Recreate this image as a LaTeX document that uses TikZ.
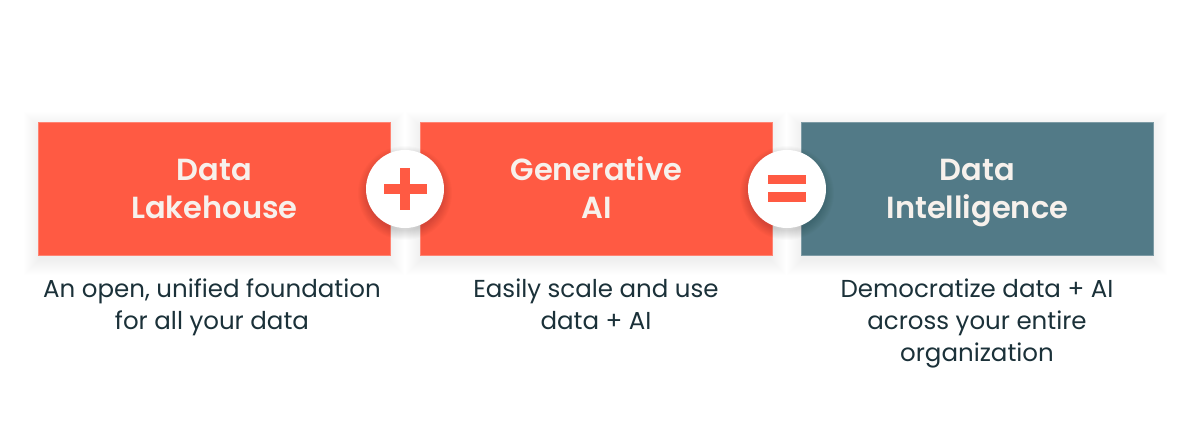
\documentclass[tikz,border=0pt]{standalone}
\usepackage{fontspec}
\setmainfont{Poppins}
\newfontfamily\titlefont{Poppins}[UprightFont=* SemiBold]
\definecolor{dbred}{HTML}{FF5A43}
\definecolor{dbteal}{HTML}{527A87}
\definecolor{txtlight}{HTML}{F7F1EC}
\definecolor{txtdark}{HTML}{1B3139}
\begin{document}
\begin{tikzpicture}[x=1pt,y=1pt,
  cardshadow/.pic={\foreach \i in {1,...,16}{\fill[black,fill opacity=0.0055] (-\i+2,-133-\i-4) rectangle (352+\i-2,\i-6);}},
  circshadow/.pic={\foreach \i in {1,...,10}{\fill[black,fill opacity=0.014] (0,-4) circle[radius=37+\i];}},
  card/.style={minimum width=352pt,minimum height=133pt,anchor=north west,inner sep=0pt,line width=0.8pt},
  title/.style={text=txtlight,anchor=base,inner sep=0pt,font=\titlefont\fontsize{30.5}{38}\selectfont},
  opcircle/.style={circle,fill=white,minimum size=78pt,inner sep=0pt},
  bar/.style={fill=dbred},
  desc/.style={text=txtdark,anchor=base,inner sep=0pt,font=\fontsize{24.5}{32}\selectfont}]
\useasboundingbox[fill=white] (0,0) rectangle (1202,444);
\pic at (38,322) {cardshadow};
\pic at (420,322) {cardshadow};
\pic at (801,322) {cardshadow};
\node[card,fill=dbred,draw=dbred!75!white] (lake) at (38,322) {};
\node[card,fill=dbred,draw=dbred!75!white] (genai) at (420,322) {};
\node[card,fill=dbteal,draw=dbteal!75!white] (intel) at (801,322) {};
\node[title] (t1a) at (lake.center |- 0,263) {Data};
\node[title] (t1b) at (lake.center |- 0,225) {Lakehouse};
\node[title] (t2a) at (genai.center |- 0,263) {Generative};
\node[title] (t2b) at (genai.center |- 0,225) {AI};
\node[title] (t3a) at (intel.center |- 0,263) {Data};
\node[title] (t3b) at (intel.center |- 0,225) {Intelligence};
\pic at (405,255) {circshadow};
\pic at (787,255) {circshadow};
\node[opcircle] (plus) at (405,255) {};
\node[opcircle] (equals) at (787,255) {};
\fill[bar] ([xshift=-21.5pt,yshift=-5pt]plus.center) rectangle ([xshift=21.5pt,yshift=5pt]plus.center);
\fill[bar] ([xshift=-5pt,yshift=-21pt]plus.center) rectangle ([xshift=5pt,yshift=21pt]plus.center);
\fill[bar] ([xshift=-19pt,yshift=5pt]equals.center) rectangle ([xshift=19pt,yshift=14pt]equals.center);
\fill[bar] ([xshift=-19pt,yshift=-13pt]equals.center) rectangle ([xshift=19pt,yshift=-3pt]equals.center);
\node[desc] (d1a) at (212,146) {An open, unified foundation};
\node[desc] (d1b) at (212,114) {for all your data};
\node[desc] (d2a) at (596,146) {Easily scale and use};
\node[desc] (d2b) at (596,114) {data + AI};
\node[desc] (d3a) at (977,146) {Democratize data + AI};
\node[desc] (d3b) at (977,114) {across your entire};
\node[desc] (d3c) at (977,82) {organization};
\end{tikzpicture}
\end{document}
